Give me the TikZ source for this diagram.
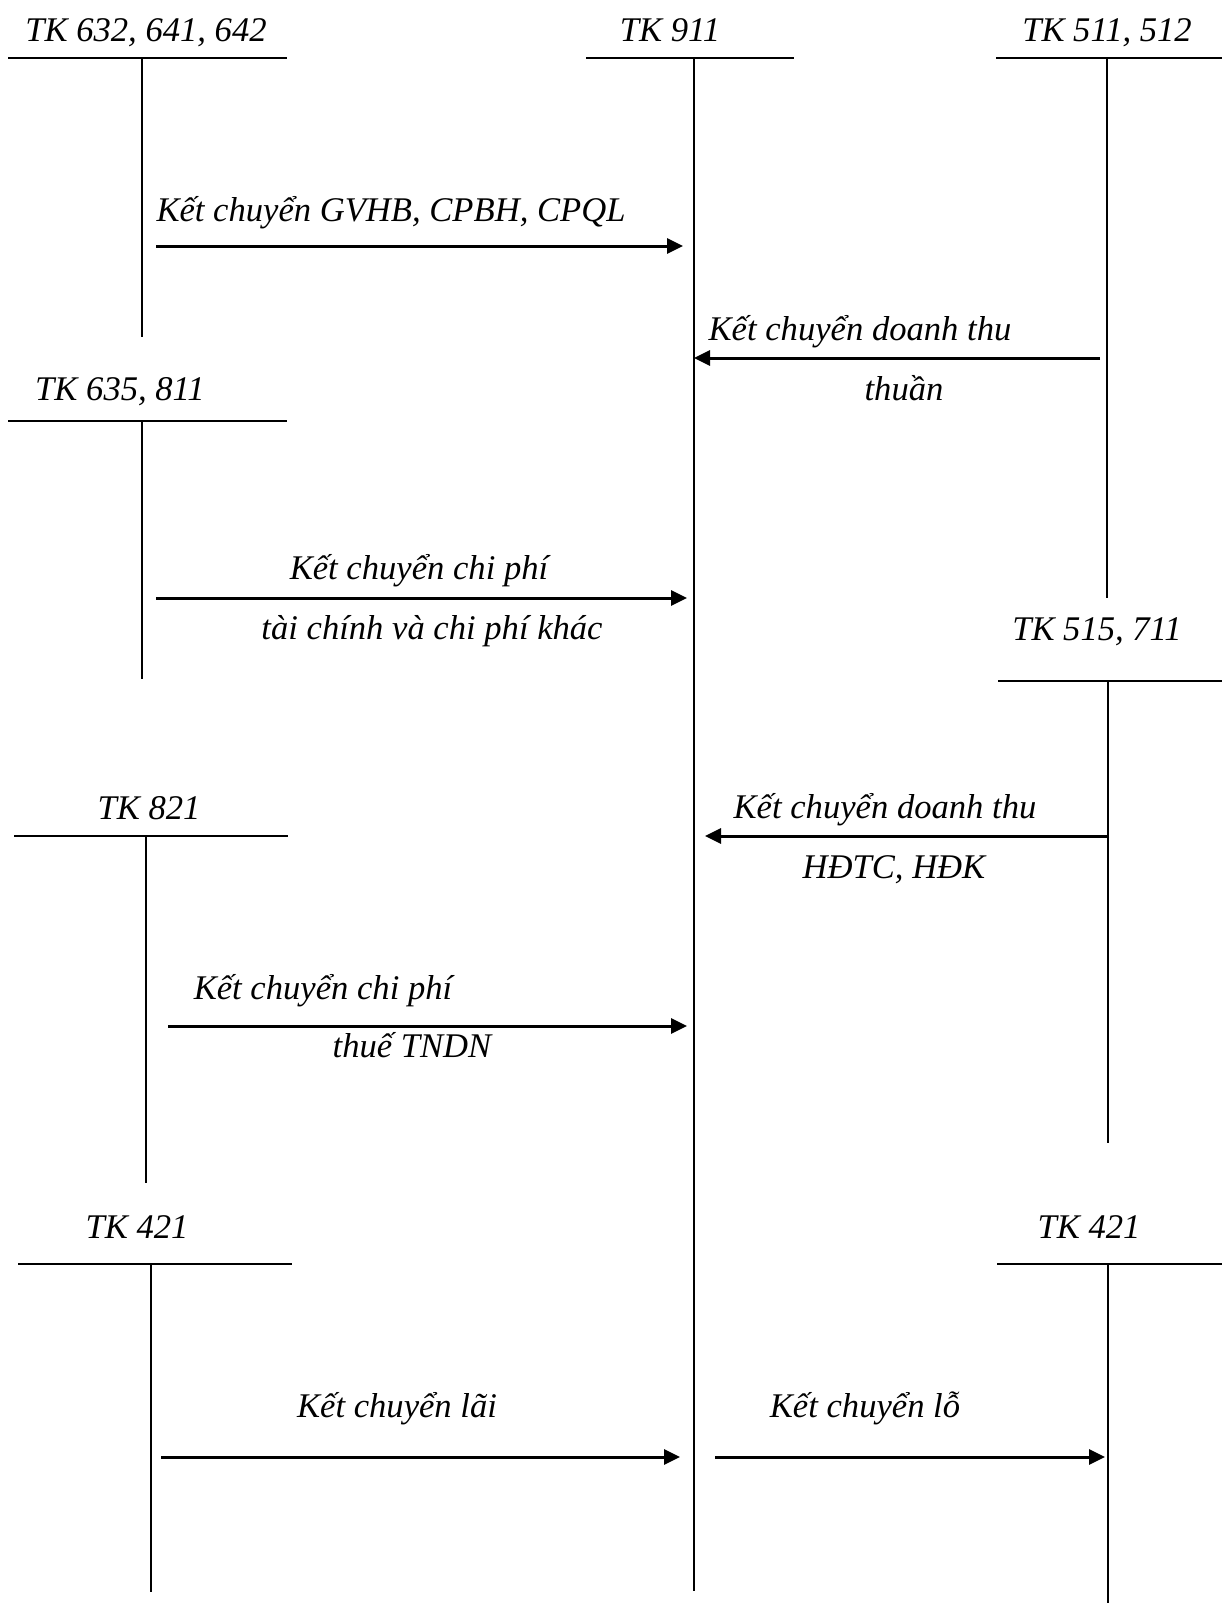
\documentclass[tikz,border=0pt]{standalone}
\usepackage{fontspec}
\setmainfont{Liberation Serif}
\usetikzlibrary{arrows.meta}
\begin{document}
\begin{tikzpicture}[x=1pt,y=-1pt,
  lbl/.style={anchor=base,inner sep=0pt,font=\fontsize{34.6}{41}\selectfont\itshape},
  bar/.style={line width=2pt},
  stem/.style={line width=1.6pt},
  flow/.style={line width=3pt,-{Triangle[length=16pt,width=15pt]}}]
\useasboundingbox[fill=white] (0,0) rectangle (1222,1603);

% ---- T-accounts: title, top bar, stem ----
% TK 632, 641, 642
\node[lbl] (t632) at (146,42) {TK 632, 641, 642};
\coordinate (t632L) at (8,58);   \coordinate (t632R) at (287,58);
\coordinate (t632T) at (142,58); \coordinate (t632B) at (142,337);
\draw[bar] (t632L) -- (t632R);
\draw[stem] (t632T) -- (t632B);

% TK 911
\node[lbl] (t911) at (670,42) {TK 911};
\coordinate (t911L) at (586,58);  \coordinate (t911R) at (794,58);
\coordinate (t911T) at (694,58);  \coordinate (t911B) at (694,1591);
\draw[bar] (t911L) -- (t911R);
\draw[stem] (t911T) -- (t911B);

% TK 511, 512
\node[lbl] (t511) at (1107,42) {TK 511, 512};
\coordinate (t511L) at (996,58);   \coordinate (t511R) at (1222,58);
\coordinate (t511T) at (1107,58);  \coordinate (t511B) at (1107,598);
\draw[bar] (t511L) -- (t511R);
\draw[stem] (t511T) -- (t511B);

% TK 635, 811
\node[lbl] (t635) at (120,400) {TK 635, 811};
\coordinate (t635L) at (8,421);   \coordinate (t635R) at (287,421);
\coordinate (t635T) at (142,421); \coordinate (t635B) at (142,679);
\draw[bar] (t635L) -- (t635R);
\draw[stem] (t635T) -- (t635B);

% TK 515, 711
\node[lbl] (t515) at (1097,640) {TK 515, 711};
\coordinate (t515L) at (998,681);   \coordinate (t515R) at (1222,681);
\coordinate (t515T) at (1108,681);  \coordinate (t515B) at (1108,1143);
\draw[bar] (t515L) -- (t515R);
\draw[stem] (t515T) -- (t515B);

% TK 821
\node[lbl] (t821) at (149,819) {TK 821};
\coordinate (t821L) at (14,836);   \coordinate (t821R) at (288,836);
\coordinate (t821T) at (146,836);  \coordinate (t821B) at (146,1183);
\draw[bar] (t821L) -- (t821R);
\draw[stem] (t821T) -- (t821B);

% TK 421 (left)
\node[lbl] (t421a) at (137,1238) {TK 421};
\coordinate (t421aL) at (18,1264);   \coordinate (t421aR) at (292,1264);
\coordinate (t421aT) at (151,1264);  \coordinate (t421aB) at (151,1592);
\draw[bar] (t421aL) -- (t421aR);
\draw[stem] (t421aT) -- (t421aB);

% TK 421 (right)
\node[lbl] (t421b) at (1089,1238) {TK 421};
\coordinate (t421bL) at (997,1264);   \coordinate (t421bR) at (1222,1264);
\coordinate (t421bT) at (1108,1264);  \coordinate (t421bB) at (1108,1603);
\draw[bar] (t421bL) -- (t421bR);
\draw[stem] (t421bT) -- (t421bB);

% ---- transfers ----
\coordinate (f1s) at (156,246);  \coordinate (f1e) at (683,246);
\draw[flow] (f1s) -- (f1e);
\node[lbl] (f1a) at (391,221) {Kết chuyển GVHB, CPBH, CPQL};

\coordinate (f2s) at (1100,358); \coordinate (f2e) at (694,358);
\draw[flow] (f2s) -- (f2e);
\node[lbl] (f2a) at (860,340) {Kết chuyển doanh thu};
\node[lbl] (f2b) at (904,400) {thuần};

\coordinate (f3s) at (156,598);  \coordinate (f3e) at (687,598);
\draw[flow] (f3s) -- (f3e);
\node[lbl] (f3a) at (419,579) {Kết chuyển chi phí};
\node[lbl] (f3b) at (432,639) {tài chính và chi phí khác};

\coordinate (f4s) at (1109,836); \coordinate (f4e) at (705,836);
\draw[flow] (f4s) -- (f4e);
\node[lbl] (f4a) at (885,818) {Kết chuyển doanh thu};
\node[lbl] (f4b) at (894,878) {HĐTC, HĐK};

\coordinate (f5s) at (168,1026); \coordinate (f5e) at (687,1026);
\draw[flow] (f5s) -- (f5e);
\node[lbl] (f5a) at (323,999) {Kết chuyển chi phí};
\node[lbl] (f5b) at (412,1057) {thuế TNDN};

\coordinate (f6s) at (161,1457); \coordinate (f6e) at (680,1457);
\draw[flow] (f6s) -- (f6e);
\node[lbl] (f6a) at (397,1417) {Kết chuyển lãi};

\coordinate (f7s) at (715,1457); \coordinate (f7e) at (1105,1457);
\draw[flow] (f7s) -- (f7e);
\node[lbl] (f7a) at (865,1417) {Kết chuyển lỗ};
\end{tikzpicture}
\end{document}
